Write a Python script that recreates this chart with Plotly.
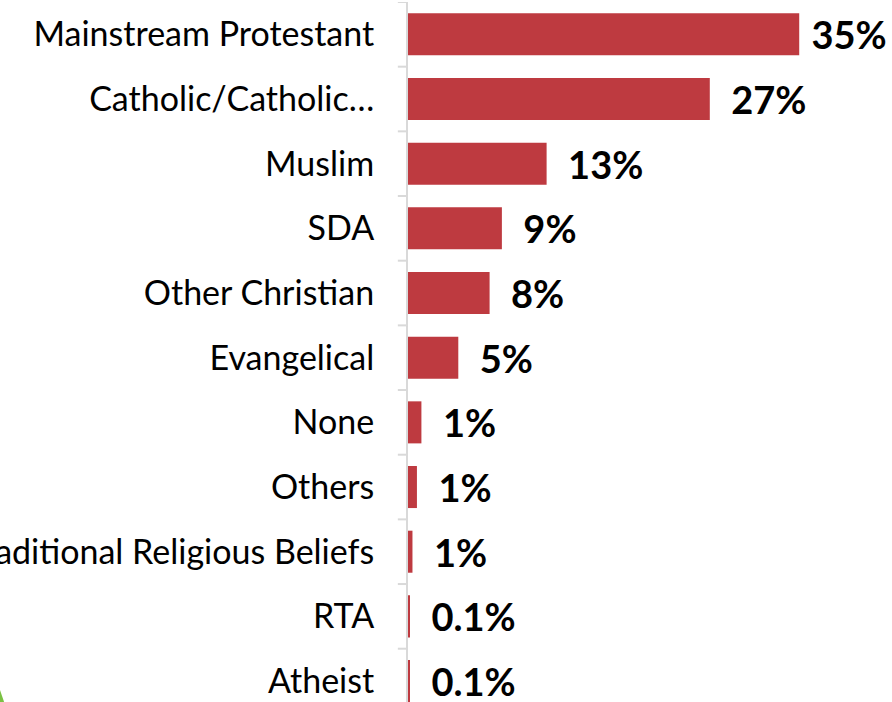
import plotly.graph_objects as go

categories = ["Mainstream Protestant", "Catholic/Catholic…", "Muslim", "SDA",
              "Other Christian", "Evangelical", "None", "Others",
              "Traditional Religious Beliefs", "RTA", "Atheist"]
values = [35, 27, 12.4, 8.4, 7.3, 4.5, 1.2, 0.8, 0.4, 0.1, 0.1]
labels = ["35%", "27%", "13%", "9%", "8%", "5%", "1%", "1%", "1%", "0.1%", "0.1%"]

# gap between bar end and its label (the top one sits closer in the original)
pads = [" "] + ["  "] * (len(labels) - 1)

fig = go.Figure(go.Bar(
    x=values,
    y=list(range(len(categories))),
    orientation="h",
    marker=dict(color="#BE3A40", line=dict(width=0)),
    text=[p + t for p, t in zip(pads, labels)],
    textposition="outside",
    constraintext="none",
    textfont=dict(family="Lato", size=38, color="#000000", weight="bold"),
    cliponaxis=False,
    width=0.65,
    hoverinfo="skip",
))

fig.update_layout(
    width=892, height=702,
    margin=dict(l=408, r=0, t=2, b=0),
    plot_bgcolor="white", paper_bgcolor="white",
    showlegend=False,
    hovermode=False,
    xaxis=dict(range=[0, 43.3], visible=False),
    yaxis=dict(
        range=[10.324, -0.5],
        tickmode="array",
        tickvals=list(range(len(categories))),
        ticktext=categories,
        tickfont=dict(family="Lato", size=34, color="#000000"),
        showline=True, linecolor="#D9D9D9", linewidth=2,
        showgrid=False, zeroline=False,
        ticks="", ticklabelstandoff=25,
        automargin=False,
    ),
    shapes=[
        # category boundary ticks
        *[dict(type="line", xref="paper", yref="y", x0=-0.021, x1=0,
               y0=i - 0.5, y1=i - 0.5, line=dict(color="#D9D9D9", width=2))
          for i in range(len(categories))],
        # corner of a green slide graphic peeking in
        dict(type="path", xref="paper", yref="paper",
             path="M -0.845 -0.01 L -0.8295 -0.01 L -0.845 0.0214 Z",
             fillcolor="#7AC143", line=dict(width=0)),
    ],
)

fig.write_html("out.html", config={"displayModeBar": False},
               post_script="document.body.style.margin='0px';")
